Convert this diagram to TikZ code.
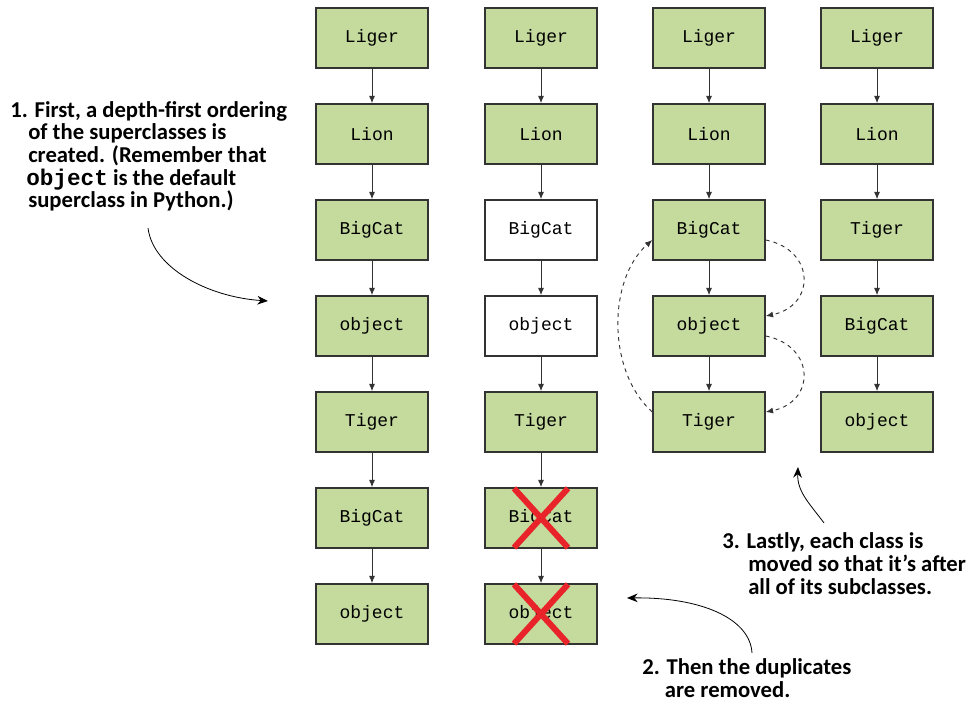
\documentclass[tikz,border=0pt]{standalone}
\usepackage{fontspec}
\setmainfont{Carlito}
\setmonofont{Liberation Mono}
\usetikzlibrary{arrows.meta,shapes.misc}

\definecolor{catgreen}{HTML}{C5DB9E}
\definecolor{crossred}{HTML}{E8242A}
\definecolor{edgegray}{HTML}{333333}

\tikzset{
  cls/.style={draw=edgegray, line width=1.1pt, fill=catgreen, minimum width=84pt,
    minimum height=45pt, inner sep=0pt, font=\ttfamily\fontsize{13.5}{16}\selectfont},
  dropped/.style={cls, fill=white},
  link/.style={-{Latex[length=5.5pt,width=4.5pt]}, line width=0.7pt, draw=edgegray},
  moveto/.style={link, dashed},
  gone/.style={cross out, draw=crossred, line width=4.5pt, minimum width=36pt,
    minimum height=40pt, inner sep=0pt},
  note/.style={align=left, anchor=base west, inner sep=0pt,
    font=\bfseries\fontsize{17}{17}\selectfont},
  callout/.style={-{Stealth[length=8pt,width=6.5pt]}, line width=0.6pt},
}

\begin{document}
\begin{tikzpicture}[x=0.75pt,y=-0.75pt]
\useasboundingbox (0,0) rectangle (974,705);

% first column: depth-first order
\node[cls] (a1) at (372,38) {Liger};
\node[cls] (a2) at (372,134) {Lion};
\node[cls] (a3) at (372,230) {BigCat};
\node[cls] (a4) at (372,326) {object};
\node[cls] (a5) at (372,422) {Tiger};
\node[cls] (a6) at (372,518) {BigCat};
\node[cls] (a7) at (372,614) {object};

% second column: duplicates removed
\node[cls] (b1) at (541,38) {Liger};
\node[cls] (b2) at (541,134) {Lion};
\node[dropped] (b3) at (541,230) {BigCat};
\node[dropped] (b4) at (541,326) {object};
\node[cls] (b5) at (541,422) {Tiger};
\node[cls] (b6) at (541,518) {BigCat};
\node[cls] (b7) at (541,614) {object};
\node[gone] (x6) at (b6) {};
\node[gone] (x7) at (b7) {};

% third column: moving classes
\node[cls] (c1) at (709,38) {Liger};
\node[cls] (c2) at (709,134) {Lion};
\node[cls] (c3) at (709,230) {BigCat};
\node[cls] (c4) at (709,326) {object};
\node[cls] (c5) at (709,422) {Tiger};

% fourth column: final order
\node[cls] (d1) at (877,38) {Liger};
\node[cls] (d2) at (877,134) {Lion};
\node[cls] (d3) at (877,230) {Tiger};
\node[cls] (d4) at (877,326) {BigCat};
\node[cls] (d5) at (877,422) {object};

\draw[link] (a1) -- (a2);
\draw[link] (a2) -- (a3);
\draw[link] (a3) -- (a4);
\draw[link] (a4) -- (a5);
\draw[link] (a5) -- (a6);
\draw[link] (a6) -- (a7);
\draw[link] (b1) -- (b2);
\draw[link] (b2) -- (b3);
\draw[link] (b3) -- (b4);
\draw[link] (b4) -- (b5);
\draw[link] (b5) -- (b6);
\draw[link] (b6) -- (b7);
\draw[link] (c1) -- (c2);
\draw[link] (c2) -- (c3);
\draw[link] (c3) -- (c4);
\draw[link] (c4) -- (c5);
\draw[link] (d1) -- (d2);
\draw[link] (d2) -- (d3);
\draw[link] (d3) -- (d4);
\draw[link] (d4) -- (d5);

% dashed moves
\draw[moveto] (c3.-10) .. controls +(50,10) and +(50,-10) .. (c4.10);
\draw[moveto] (c4.-10) .. controls +(50,10) and +(50,-10) .. (c5.10);
\draw[moveto] (c5.170) .. controls +(-45,-40) and +(-45,40) .. (c3.190);

% notes
\node[note] (n1) at (10,208) {1. First, a depth-first ordering\\
\hspace*{13.5pt}of the superclasses is\\
\hspace*{13.5pt}created. (Remember that\\
\hspace*{12pt}{\ttfamily object} is the default\\
\hspace*{13.5pt}superclass in Python.)};
\node[note] (n3) at (722,594) {3. Lastly, each class is\\
\hspace*{19.5pt}moved so that it’s after\\
\hspace*{19.5pt}all of its subclasses.};
\node[note] (n2) at (642,697) {2. Then the duplicates\\
\hspace*{17pt}are removed.};

\coordinate (s1) at (148,228);
\coordinate (t1) at (268,301);
\coordinate (s2) at (752,653);
\coordinate (t2) at (627,598);
\coordinate (s3) at (824,523);
\coordinate (t3) at (798,467);
\draw[callout] (s1) .. controls (153,268) and (208,297) .. (t1);
\draw[callout] (s2) .. controls (750,618) and (700,597) .. (t2);
\draw[callout] (s3) .. controls (810,504) and (797,492) .. (t3);
\end{tikzpicture}
\end{document}
